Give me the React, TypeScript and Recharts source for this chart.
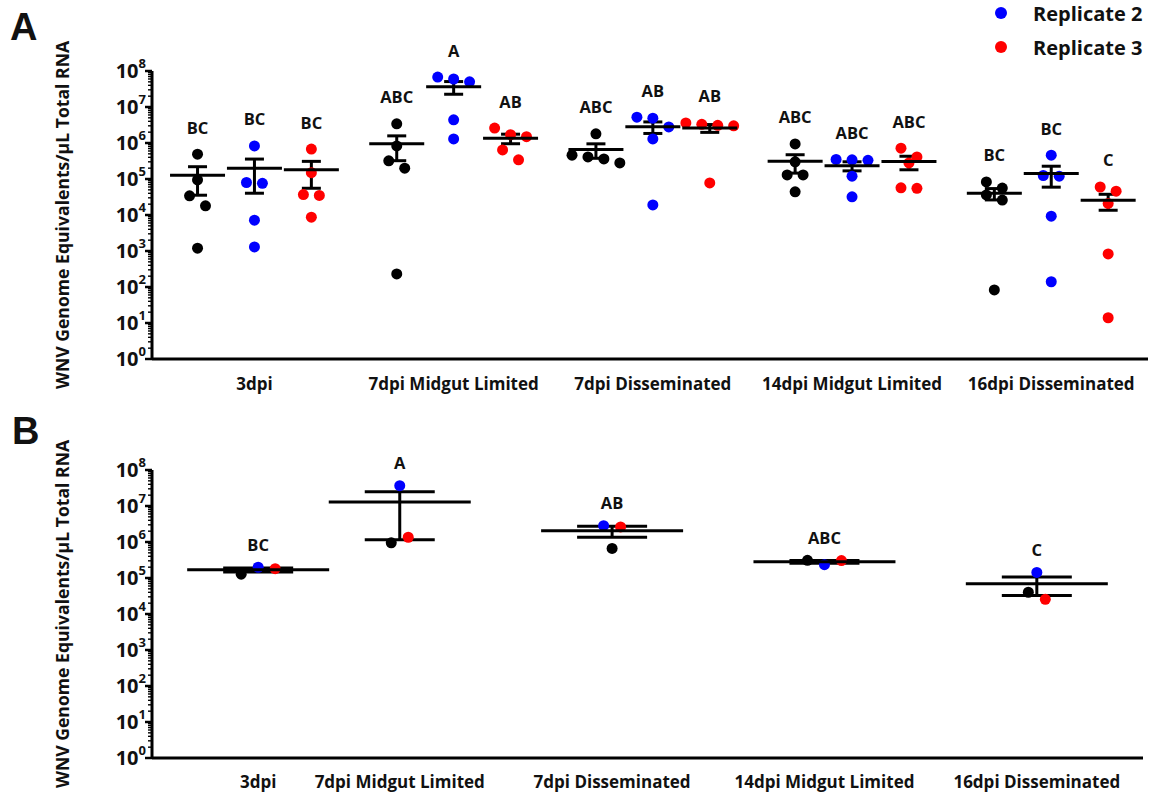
import React from "react";
import { ComposedChart, ErrorBar, Scatter, XAxis, YAxis } from "recharts";

const FONT = "'Open Sans', 'Liberation Sans', sans-serif";

const groups = [
  "3dpi",
  "7dpi Midgut Limited",
  "7dpi Disseminated",
  "14dpi Midgut Limited",
  "16dpi Disseminated",
];

const replicateNames = ["Replicate 1", "Replicate 2", "Replicate 3"];
const replicateColors = ["#000000", "#0000ff", "#ff0000"];

// genome equivalents per mosquito, one row per group (5 mosquitoes each)
const replicate1 = [
  [4.9e5, 9.4e4, 3.4e4, 1.8e4, 1.2e3],
  [3.4e6, 8.3e5, 3.2e5, 2.0e5, 230],
  [1.8e6, 4.6e5, 4.1e5, 3.6e5, 2.8e5],
  [9.4e5, 3.0e5, 1.3e5, 1.3e5, 4.4e4],
  [8.3e4, 5.6e4, 3.6e4, 2.6e4, 83],
];
const replicate2 = [
  [8.3e5, 8.0e4, 7.6e4, 7.2e3, 1.3e3],
  [6.8e7, 6.0e7, 5.0e7, 4.4e6, 1.3e6],
  [5.2e6, 4.9e6, 2.8e6, 1.3e6, 1.9e4],
  [3.5e5, 3.4e5, 3.3e5, 1.2e5, 3.2e4],
  [4.6e5, 1.25e5, 1.2e5, 9.3e3, 140],
];
const replicate3 = [
  [6.8e5, 1.5e5, 3.7e4, 3.5e4, 8.7e3],
  [2.6e6, 1.7e6, 1.5e6, 6.4e5, 3.4e5],
  [3.6e6, 3.3e6, 3.1e6, 3.0e6, 7.8e4],
  [7.2e5, 4.1e5, 2.8e5, 5.7e4, 5.5e4],
  [6.0e4, 4.6e4, 2.1e4, 830, 14],
];

// significance groupings, [group][replicate] for A, [group] for B
const lettersA = [
  ["BC", "BC", "BC"],
  ["ABC", "A", "AB"],
  ["ABC", "AB", "AB"],
  ["ABC", "ABC", "ABC"],
  ["BC", "BC", "C"],
];
const lettersB = ["BC", "A", "AB", "ABC", "C"];

// category positions on the numeric x axis
const groupSlotsA = [0, 3.5, 7, 10.5, 14];
const groupSlotsB = [1.5, 3.5, 6.5, 9.5, 12.5];

const replicates = [replicate1, replicate2, replicate3];

const mean = (v: number[]) => v.reduce((s, x) => s + x, 0) / v.length;
const sem = (v: number[]) => {
  const m = mean(v);
  const sd = Math.sqrt(v.reduce((s, x) => s + (x - m) ** 2, 0) / (v.length - 1));
  return sd / Math.sqrt(v.length);
};

type Pt = { x: number; y: number; rep: number };

// spread points that would overlap vertically into a row, like a column scatter
function swarm(
  items: { y: number; rep: number }[],
  center: number,
  step: number,
  byReplicate = false
): Pt[] {
  const sorted = [...items].sort((a, b) => b.y - a.y);
  const out: Pt[] = [];
  let row: { y: number; rep: number }[] = [];
  const flush = () => {
    const ordered = byReplicate ? [...row].sort((a, b) => a.rep - b.rep) : row;
    ordered.forEach((p, k) =>
      out.push({ x: center + (k - (row.length - 1) / 2) * step, y: p.y, rep: p.rep })
    );
    row = [];
  };
  sorted.forEach((p) => {
    if (row.length && Math.log10(row[0].y / p.y) > 0.28) flush();
    row.push(p);
  });
  flush();
  return out;
}

// panel A: every mosquito, split by replicate
const pointsA = replicates.flatMap((rep, r) =>
  groups.flatMap((_, g) =>
    swarm(rep[g].map((y) => ({ y, rep: r })), groupSlotsA[g] + r, 0.28)
  )
);
const summaryA = replicates.flatMap((rep, r) =>
  groups.map((_, g) => ({ x: groupSlotsA[g] + r, y: mean(rep[g]), sem: sem(rep[g]) }))
);
const lettersDataA = replicates.flatMap((rep, r) =>
  groups.map((_, g) => ({ x: groupSlotsA[g] + r, y: Math.max(...rep[g]), letter: lettersA[g][r] }))
);

// panel B: replicate means
const pointsB = groups.flatMap((_, g) =>
  swarm(replicates.map((rep, r) => ({ y: mean(rep[g]), rep: r })), groupSlotsB[g], 0.24, true)
);
const summaryB = groups.map((_, g) => {
  const v = replicates.map((rep) => mean(rep[g]));
  return { x: groupSlotsB[g], y: mean(v), sem: sem(v) };
});
const lettersDataB = groups.map((_, g) => ({
  x: groupSlotsB[g],
  y: Math.max(...replicates.map((rep) => mean(rep[g]))),
  letter: lettersB[g],
}));

const logTicks: number[] = [];
for (let e = 0; e < 8; e++) for (let m = 1; m < 10; m++) logTicks.push(m * 10 ** e);
logTicks.push(1e8);

const LogTick = (props: any) => {
  const { x, y, payload } = props;
  const exp = Math.log10(payload.value);
  const major = Math.abs(exp - Math.round(exp)) < 1e-6;
  return (
    <g>
      <line
        x1={x - (major ? 7 : 4)}
        x2={x}
        y1={y}
        y2={y}
        stroke="#000"
        strokeWidth={major ? 2.5 : 1.4}
      />
      {major && (
        <text
          x={x - 6}
          y={y}
          dy={7}
          textAnchor="end"
          style={{ fontFamily: FONT, fontSize: 20, fontWeight: 700 }}
          fill="#111"
        >
          10
          <tspan dy={-10} style={{ fontSize: 13 }}>
            {Math.round(exp)}
          </tspan>
        </text>
      )}
    </g>
  );
};

const groupTick = (gap: number) => (props: any) => {
  const { x, y, index } = props;
  return (
    <text
      x={x}
      y={y + gap}
      textAnchor="middle"
      dominantBaseline="central"
      style={{ fontFamily: FONT, fontSize: 17, fontWeight: 700 }}
      fill="#111"
    >
      {groups[index]}
    </text>
  );
};

const dot = (color: string, r: number) => (p: any) =>
  <circle cx={p.cx} cy={p.cy} r={r} fill={color} />;

const meanLine = (half: number) => (p: any) =>
  <line x1={p.cx - half} x2={p.cx + half} y1={p.cy} y2={p.cy} stroke="#000" strokeWidth={3} />;

const letterMark = (gap: number) => (p: any) => (
  <text
    x={p.cx}
    y={p.cy - gap}
    textAnchor="middle"
    dominantBaseline="central"
    style={{ fontFamily: FONT, fontSize: 16.5, fontWeight: 700 }}
    fill="#111"
  >
    {p.payload.letter}
  </text>
);

const yTitle = (props: any) => {
  const vb = props.viewBox;
  const cy = vb.y + vb.height / 2;
  return (
    <text
      transform={`translate(62, ${cy}) rotate(-90)`}
      textAnchor="middle"
      dominantBaseline="central"
      style={{ fontFamily: FONT, fontSize: 17.6, fontWeight: 700 }}
      fill="#111"
    >
      WNV Genome Equivalents/μL Total RNA
    </text>
  );
};

type PanelProps = {
  top: number;
  height: number;
  margin: { top: number; right: number; bottom: number; left: number };
  xHeight: number;
  domain: [number, number];
  ticks: number[];
  points: Pt[];
  summary: { x: number; y: number; sem: number }[];
  letters: { x: number; y: number; letter: string }[];
  meanHalf: number;
  capHalf: number;
  letterGap: number;
  labelGap: number;
};

function Panel(p: PanelProps) {
  return (
    <div style={{ position: "absolute", left: 0, top: p.top }}>
      <ComposedChart width={1151} height={p.height} margin={p.margin}>
        <XAxis
          type="number"
          dataKey="x"
          domain={p.domain}
          ticks={p.ticks}
          interval={0}
          height={p.xHeight}
          tickSize={0}
          tickMargin={0}
          tickLine={false}
          axisLine={{ stroke: "#000", strokeWidth: 3 }}
          tick={groupTick(p.labelGap)}
        />
        <YAxis
          type="number"
          dataKey="y"
          scale="log"
          domain={[1, 1e8]}
          ticks={logTicks}
          interval={0}
          width={152}
          tickSize={0}
          tickMargin={0}
          tickLine={false}
          axisLine={{ stroke: "#000", strokeWidth: 3 }}
          tick={LogTick}
          label={{ content: yTitle }}
        />
        {replicateColors.map((c, r) => (
          <Scatter
            key={replicateNames[r]}
            name={replicateNames[r]}
            data={p.points.filter((d) => d.rep === r)}
            shape={dot(c, 5.5)}
            isAnimationActive={false}
          />
        ))}
        <Scatter data={p.summary} shape={meanLine(p.meanHalf)} isAnimationActive={false}>
          <ErrorBar dataKey="sem" direction="y" width={p.capHalf} stroke="#000" strokeWidth={3} />
        </Scatter>
        <Scatter data={p.letters} shape={letterMark(p.letterGap)} isAnimationActive={false} />
      </ComposedChart>
    </div>
  );
}

export default function App() {
  return (
    <div
      style={{
        position: "absolute",
        left: 0,
        top: 0,
        width: 1151,
        height: 794,
        background: "#fff",
        overflow: "hidden",
      }}
    >
      <Panel
        top={0}
        height={400}
        margin={{ top: 71, right: 3, bottom: 0, left: 0 }}
        xHeight={41}
        domain={[-0.8, 16.7]}
        ticks={groupSlotsA.map((s) => s + 1)}
        points={pointsA}
        summary={summaryA}
        letters={lettersDataA}
        meanHalf={27.5}
        capHalf={9.5}
        letterGap={27}
        labelGap={24}
      />
      <Panel
        top={400}
        height={394}
        margin={{ top: 70, right: 8, bottom: 0, left: 0 }}
        xHeight={36}
        domain={[0, 14]}
        ticks={groupSlotsB}
        points={pointsB}
        summary={summaryB}
        letters={lettersDataB}
        meanHalf={71}
        capHalf={35}
        letterGap={23}
        labelGap={23}
      />
      <svg
        width={1151}
        height={794}
        style={{ position: "absolute", left: 0, top: 0, pointerEvents: "none" }}
      >
        <text x={10} y={40} fontFamily="'Liberation Sans', Arial, sans-serif" fontWeight={700} fontSize={38} fill="#111">
          A
        </text>
        <text x={12} y={444} fontFamily="'Liberation Sans', Arial, sans-serif" fontWeight={700} fontSize={38} fill="#111">
          B
        </text>
        {[1, 2].map((r, i) => (
          <g key={replicateNames[r]}>
            <circle cx={1001} cy={13 + i * 34} r={6} fill={replicateColors[r]} />
            <text
              x={1033}
              y={13 + i * 34}
              dominantBaseline="central"
              fontFamily={FONT}
              fontWeight={700}
              fontSize={20}
              fill="#111"
            >
              {replicateNames[r]}
            </text>
          </g>
        ))}
      </svg>
    </div>
  );
}
